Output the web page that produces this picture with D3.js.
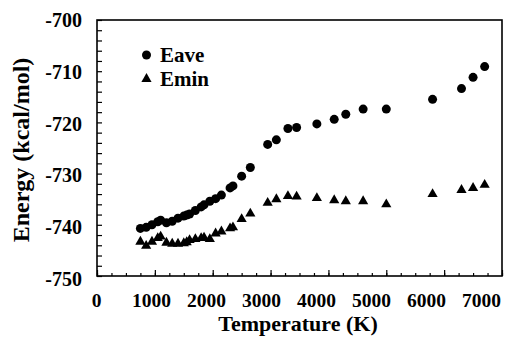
<!DOCTYPE html>
<html>
<head>
	<meta charset="utf-8" />
	<title>Energy vs Temperature</title>
	<script type="text/javascript" src="https://cdn.jsdelivr.net/npm/d3@7"></script>
	<style>
		body { margin: 0; background: #fff; }
		svg { display: block; }
	</style>
</head>
<body>

<div id="chart">
	<svg></svg>
</div>

<script type="text/javascript">
/* data */
var temps = [750, 850, 950, 1050, 1100, 1200, 1300, 1400, 1500, 1550, 1600, 1700, 1800, 1850,
             1950, 2050, 2150, 2300, 2350, 2500, 2650, 2950, 3100, 3300, 3450, 3800, 4100, 4300,
             4600, 5000, 5800, 6300, 6500, 6700];

var eave = [-740.7, -740.5, -740.0, -739.4, -739.1, -739.6, -739.3, -738.7, -738.3, -738.1,
            -737.9, -737.2, -736.5, -736.1, -735.4, -734.9, -734.2, -732.8, -732.4, -730.5,
            -728.8, -724.3, -723.4, -721.2, -721.0, -720.3, -719.4, -718.4, -717.4, -717.4,
            -715.5, -713.4, -711.2, -709.1];

var emin = [-743.3, -744.1, -743.3, -742.6, -742.3, -743.5, -743.7, -743.7, -743.6, -743.4,
            -743.0, -742.8, -742.6, -742.5, -742.8, -741.7, -741.3, -740.7, -740.5, -738.9,
            -737.8, -735.7, -735.0, -734.4, -734.5, -734.8, -735.2, -735.4, -735.4, -736.0,
            -734.0, -733.2, -732.8, -732.2];

var xTicks = [0, 1000, 2000, 3000, 4000, 5000, 6000, 7000];
var yTicks = [-700, -710, -720, -730, -740, -750];

var legendNames = ["Eave", "Emin"];

var FONT = '"Liberation Serif", "Times New Roman", Tinos, "DejaVu Serif", serif';

(function drawChart() {
	var W = 524, H = 353;
	var plot = { left: 97, right: 502, top: 20, bottom: 276 };

	var svg = d3.select('#chart > svg')
		.attr("width", W)
		.attr("height", H)
		.attr("font-family", FONT)
		.attr("font-weight", "bold");

	var x = d3.scaleLinear().domain([0, 7000]).range([plot.left, plot.right]);
	var y = d3.scaleLinear().domain([-750, -700]).range([plot.bottom, plot.top]);

	// the tick labels in the scan sit slightly off the tick marks
	var xLab = d3.scaleLinear().domain([0, 7000]).range([96, 481]);
	var yLab = d3.scaleLinear().domain([-750, -700]).range([279, 20]);

	var plain = function(d) { return String(d); };   // keep "-" instead of "−", no commas

	// ticks, inside the frame
	svg.append("g")
		.attr("transform", "translate(0," + plot.bottom + ")")
		.call(d3.axisBottom(x).tickValues(d3.range(0, 7001, 250)).tickSize(-3).tickFormat(""))
		.call(function(g) { g.select(".domain").remove(); });
	svg.append("g")
		.attr("transform", "translate(0," + plot.bottom + ")")
		.call(d3.axisBottom(x).tickValues(xTicks).tickSize(-6).tickFormat(""))
		.call(function(g) { g.select(".domain").remove(); });
	svg.append("g")
		.attr("transform", "translate(" + plot.left + ",0)")
		.call(d3.axisLeft(y).tickValues(d3.range(-750, -699, 2)).tickSize(-5).tickFormat(""))
		.call(function(g) { g.select(".domain").remove(); });

	svg.selectAll(".tick line").attr("stroke", "#000").attr("stroke-width", 1.2);

	// tick labels
	svg.append("g")
		.attr("transform", "translate(0,300)")
		.call(d3.axisBottom(xLab).tickValues(xTicks).tickSize(0).tickPadding(0).tickFormat(plain))
		.call(function(g) {
			g.select(".domain").remove();
			g.attr("font-family", FONT).attr("font-size", 19.5);
			g.selectAll("text").attr("dy", "0.35em").attr("fill", "#000");
		});
	svg.append("g")
		.attr("transform", "translate(82,0)")
		.call(d3.axisLeft(yLab).tickValues(yTicks).tickSize(0).tickPadding(0).tickFormat(plain))
		.call(function(g) {
			g.select(".domain").remove();
			g.attr("font-family", FONT).attr("font-size", 20);
			g.selectAll("text").attr("fill", "#000");
		});

	// frame
	svg.append("rect")
		.attr("x", plot.left)
		.attr("y", plot.top)
		.attr("width", plot.right - plot.left)
		.attr("height", plot.bottom - plot.top)
		.attr("fill", "none")
		.attr("stroke", "#000")
		.attr("stroke-width", 1.6);

	// titles
	svg.append("text")
		.attr("x", 298)
		.attr("y", 331)
		.attr("text-anchor", "middle")
		.attr("font-size", 22)
		.text("Temperature (K)");
	svg.append("text")
		.attr("transform", "translate(29,150) rotate(-90)")
		.attr("text-anchor", "middle")
		.attr("font-size", 24)
		.text("Energy (kcal/mol)");

	var tri = d3.symbol().type(d3.symbolTriangle).size(45);

	// Emin
	svg.append("g").selectAll("path")
		.data(temps)
		.join("path")
		.attr("d", tri)
		.attr("transform", function(d, i) { return "translate(" + x(d) + "," + y(emin[i]) + ")"; })
		.attr("fill", "#000");

	// Eave
	svg.append("g").selectAll("circle")
		.data(temps)
		.join("circle")
		.attr("cx", function(d) { return x(d); })
		.attr("cy", function(d, i) { return y(eave[i]); })
		.attr("r", 4.5)
		.attr("fill", "#000");

	// legend
	var leg = svg.append("g");
	leg.append("circle").attr("cx", 146.5).attr("cy", 55).attr("r", 4.5).attr("fill", "#000");
	leg.append("path").attr("d", tri).attr("transform", "translate(146.5,79)").attr("fill", "#000");
	leg.selectAll("text")
		.data(legendNames)
		.join("text")
		.attr("x", 160)
		.attr("y", function(d, i) { return 62 + i * 24; })
		.attr("font-size", 21)
		.text(function(d) { return d; });
})();

</script>
</body>
</html>
